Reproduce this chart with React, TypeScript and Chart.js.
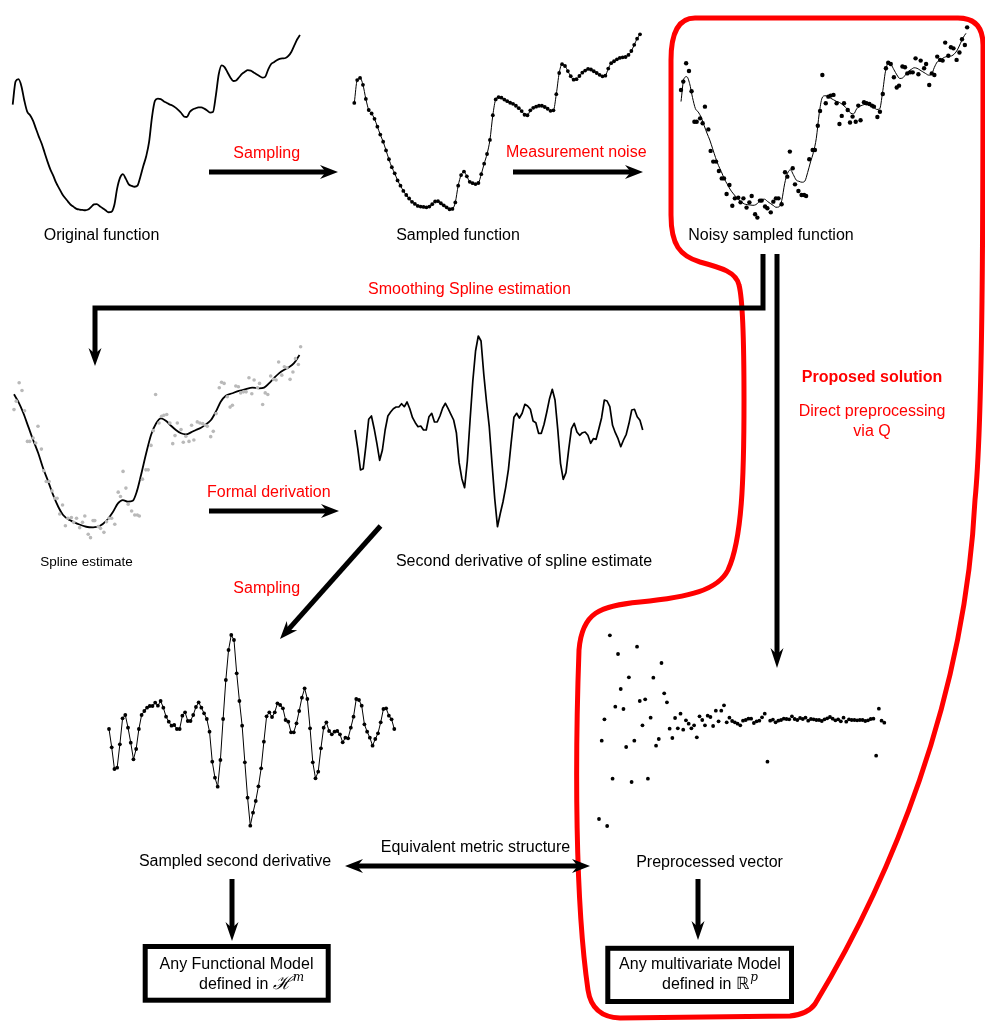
import React, { useEffect, useRef } from "react";
import { Chart, registerables } from "chart.js";

Chart.register(...registerables);

const FONT = '"Liberation Sans", Arial, Helvetica, sans-serif';
const RED = "#ff0000";

// ---------------- data ----------------
// underlying function, 100 uniform samples over t = 0..100
const fnSamples = [61, 74, 75.2, 71.3, 63.3, 57, 55, 52, 47.5, 43, 39, 34, 29, 24.5, 21, 17, 14, 11, 8.7, 6.7,
  4.8, 3.6, 2.5, 2.1, 1.9, 1.7, 2.1, 3.5, 5, 5.2, 4, 2.8, 1.7, 0.6, 0.8, 4.5, 14, 20, 22, 19.3,
  16.2, 15.4, 14.9, 15.5, 20.5, 26.5, 32, 40, 54, 63, 64.3, 64, 62.9, 62, 61.1, 60.5, 59.4, 58, 56.4, 54.3,
  54, 56.8, 58.2, 58.9, 59.4, 59.4, 58.7, 57.7, 56.5, 56.8, 66, 78, 83, 82, 79.1, 76.2, 74.2, 74.5, 76.3, 78.2,
  79.4, 80.3, 80, 79, 78, 77, 76.1, 76.5, 80.5, 83.6, 84.7, 85.8, 86.6, 86.9, 87.1, 88.3, 90.5, 94, 97.5, 100];

// noisy observations
const noisyT = [0, 0.8, 1.8, 2.8, 3.7, 4.7, 5.5, 6.7, 7.6, 8.4, 9.6, 10.4, 11.3, 12.3, 13.3, 14.3, 15.1, 16.0, 17.0, 18.0,
  18.9, 20.1, 20.9, 21.9, 23.0, 24.0, 24.8, 26.0, 26.8, 27.7, 28.3, 29.5, 30.3, 31.5, 32.4, 33.3, 34.2, 35.3, 36.5, 37.3,
  38.2, 39.2, 40.0, 41.2, 42.3, 43.2, 43.9, 45.0, 46.2, 47.0, 48.0, 48.8, 49.6, 50.8, 51.7, 52.5, 53.5, 54.6, 55.6, 56.4,
  57.2, 58.5, 59.3, 60.2, 61.3, 62.2, 63.0, 64.2, 65.1, 66.1, 67.0, 67.7, 68.9, 69.8, 70.8, 71.9, 72.7, 73.6, 74.7, 75.7,
  76.5, 77.7, 78.6, 79.4, 80.4, 81.3, 82.3, 83.3, 84.1, 85.3, 86.0, 87.1, 88.0, 88.9, 89.9, 90.9, 91.8, 92.7, 93.8, 94.7,
  95.6, 96.7, 97.7, 98.6, 99.6, 100.4];
const noisyV = [67.6, 72.4, 82.9, 78.5, 66.9, 49.5, 49.5, 51.4, 48.6, 58.1, 45.1, 32.8, 26.7, 26.7, 21.3, 17.1, 17.1, 8.2, 13.3, 1.5,
  5.7, 6.1, 3.4, 5.7, 0.4, 3.4, 7.0, -3.4, -5.3, 4.4, 4.4, 1.0, 0, -2.3, 3.8, 5.7, 5.7, 2.3, 20.6, 18.1,
  32.4, 22.9, 13.7, 9.9, 7.6, 7.6, 7.0, 28.0, 33.3, 33.3, 47.2, 55.6, 76.2, 60.0, 63.8, 64.4, 64.8, 60.0, 48.2, 52.8,
  60.0, 56.2, 49.0, 52.4, 49.5, 58.7, 50.3, 60.6, 60.0, 59.6, 58.7, 58.1, 52.2, 55.2, 65.3, 80.0, 83.2, 82.5, 74.9, 69.0,
  70.1, 81.0, 80.6, 77.1, 77.7, 77.7, 85.7, 76.6, 84.4, 80.0, 82.5, 70.5, 77.1, 76.2, 86.7, 84.8, 84.4, 94.7, 87.2, 92.0,
  91.4, 84.8, 89.0, 96.6, 93.3, 103.4];

// smoothing spline estimate
const splineT = [0, 1.5, 3.3, 5.0, 6.7, 8.5, 10.2, 12.0, 13.7, 15.5, 17.2, 19.5, 22.4, 25.3, 27.7, 30.0, 32.3, 34.7,
  36.4, 38.1, 39.9, 41.6, 43.0, 44.5, 46.3, 48.0, 49.8, 51.5, 53.3, 55.0, 56.7, 58.5, 60.2, 62.0, 63.7, 65.5, 67.2,
  69.0, 70.7, 72.4, 74.2, 76.5, 78.8, 81.2, 83.5, 85.8, 87.6, 89.3, 91.0, 92.8, 94.5, 96.3, 98.0, 100];
const splineV = [76.3, 72.1, 65.5, 57.9, 50.3, 42.7, 34.2, 26.6, 19.0, 12.3, 7.6, 4.7, 2.5, 0.9, 0.6, 1.3, 4.2, 9.5,
  14.2, 16.1, 15.2, 15.7, 20.9, 30.4, 42.7, 53.1, 59.8, 62.6, 61.1, 58.4, 56.0, 54.1, 53.5, 54.6, 56.0, 57.3, 59.2,
  61.7, 66.4, 72.1, 75.5, 76.9, 78.2, 79.3, 80.1, 79.7, 80.1, 82.5, 85.4, 88.2, 90.1, 91.7, 93.9, 98.7];

// second derivative of the spline (uniform grid)
const secondDeriv = [0, -18.3, -40, -38.7, -15.3, 10.7, 14, 1.3, -13.7, -30.3, -20, 0, 14, 18, 21.3, 23, 23, 26.3, 23.3, 28,
  21.3, 12.3, 7.3, 3.3, 4, 0, 0, 13.3, 16.7, 8, 8, 14, 22, 26.7, 21.3, 15.7, 10, -2.7, -32.7, -48.7,
  -57.7, -31, 10, 49, 79, 94, 89, 55.7, 28, 3.3, -33.3, -68.7, -96.7, -83.7, -72, -57.3, -39.3, -12.7, 12.7, 16.7,
  12, 16.7, 25.7, 24, 20.7, 9, 7.3, -3.3, -3.3, 5.7, 18, 31.3, 40.7, 30, 0.7, -33.3, -49.3, -42.7, -19.3, 1.3,
  6.7, -2, -5.3, -2.7, -2, -5.3, -13.3, -8.7, -9.3, 1.3, 12.3, 30, 29, 23.3, 4.7, -2.7, -8.7, -16.7, -10, -4.3,
  6.7, 20, 20.7, 13.3, 9.7, 0];

// directly preprocessed vector
const preprocessed = [-99, -20.7, 0.7, -106, 84.7, -58.7, 13.3, 66, 31, 11, -27, 42.7, -62, -20.7, 73.3, 19, -5.3, 20.7, -58.7, 2.3,
  42.3, -25.7, -19, 57, 26.7, 17.7, -8.7, -18, 2, -8.3, 6.3, -9.7, -0.3, -3.7, -8.3, -5.3, -17.3, 3.7, 0, -5.3,
  4.3, 3, -6, 9.3, -1.3, 9.3, 14.7, -2.3, 2.3, -1, -2.3, -3.7, -5.3, -0.7, 0, 1.3, 1.3, -3, -1.3, -0.7,
  2.7, 6.3, -41.7, -0.7, 0.3, -2.3, -0.7, 0, 1.3, 1, 0.7, 3.7, 1, 0, 2, 1, 2.3, -0.7, 1, 0.7,
  0, 0, -1, 0.7, 1.7, 3, 1.3, -0.3, 0.7, -1.3, 2.3, -1.7, 0.7, 0, 0, -0.3, 0, 0, -1, -0.3,
  1, 1.3, -35.7, 11.3, -0.7, -2.7];

// ---------------- helpers ----------------
type Pt = { x: number; y: number };
const onGrid = (ys: number[], span?: number): Pt[] =>
  ys.map((y, i) => ({ x: span === undefined ? i : (i * span) / (ys.length - 1), y }));
const zip = (xs: number[], ys: number[]): Pt[] => {
  const n = Math.min(xs.length, ys.length);
  return xs.slice(0, n).map((x, i) => ({ x, y: ys[i] }));
};

const lineDs = (data: Pt[], width: number, extra: any = {}) => ({
  data, showLine: true, borderColor: "#000", borderWidth: width, pointRadius: 0, fill: false, clip: false,
  borderJoinStyle: "round", ...extra,
});
const dotDs = (data: Pt[], r: number, color = "#000") => ({
  data, showLine: false, pointRadius: r, pointBackgroundColor: color, pointBorderWidth: 0,
  borderColor: color, backgroundColor: color, clip: false,
});

interface PlotSpec {
  id: string; x0: number; x1: number; yTop: number; yBottom: number;
  xMin: number; xMax: number; yMin: number; yMax: number; make: () => any[];
}

// pixel frame of each small panel (x0..x1 maps xMin..xMax, yTop..yBottom maps yMax..yMin)
const plots: PlotSpec[] = [
  { id: "orig", x0: 12.7, x1: 300, yTop: 35, yBottom: 213.3, xMin: 0, xMax: 100, yMin: 0, yMax: 100,
    make: () => [lineDs(onGrid(fnSamples, 100), 1.8, { cubicInterpolationMode: "monotone" })] },
  { id: "sampled", x0: 354.3, x1: 640, yTop: 34.3, yBottom: 210.3, xMin: 0, xMax: 100, yMin: 0, yMax: 100,
    make: () => [lineDs(onGrid(fnSamples, 100), 1, { cubicInterpolationMode: "monotone" }), dotDs(onGrid(fnSamples, 100), 1.9)] },
  { id: "noisy", x0: 681, x1: 971.7, yTop: 15.8, yBottom: 225.8, xMin: 0, xMax: 102, yMin: -10, yMax: 110,
    make: () => [lineDs(onGrid(fnSamples, 100), 1, { cubicInterpolationMode: "monotone" }), dotDs(zip(noisyT, noisyV), 2.2)] },
  { id: "spline", x0: 14, x1: 305.2, yTop: 335.1, yBottom: 545.9, xMin: 0, xMax: 102, yMin: -10, yMax: 110,
    make: () => [dotDs(zip(noisyT, noisyV), 1.8, "#b9b9b9"), lineDs(zip(splineT, splineV), 1.8, { cubicInterpolationMode: "monotone" })] },
  { id: "deriv", x0: 355, x1: 642.7, yTop: 330, yBottom: 530, xMin: 0, xMax: secondDeriv.length - 1, yMin: -100, yMax: 100,
    make: () => [lineDs(onGrid(secondDeriv), 1.7)] },
  { id: "sderiv", x0: 109, x1: 394.3, yTop: 629, yBottom: 829, xMin: 0, xMax: secondDeriv.length - 1, yMin: -100, yMax: 100,
    make: () => [lineDs(onGrid(secondDeriv), 1), dotDs(onGrid(secondDeriv), 1.9)] },
  { id: "prep", x0: 599, x1: 884.3, yTop: 610, yBottom: 835, xMin: 0, xMax: preprocessed.length - 1, yMin: -115, yMax: 110,
    make: () => [dotDs(onGrid(preprocessed), 1.9)] },
];

function MiniPlot({ spec }: { spec: PlotSpec }) {
  const ref = useRef<HTMLCanvasElement>(null);
  const left = Math.floor(spec.x0) - 10;
  const right = Math.ceil(spec.x1) + 10;
  const top = Math.floor(spec.yTop) - 10;
  const bottom = Math.ceil(spec.yBottom) + 12;
  useEffect(() => {
    const chart = new Chart(ref.current as HTMLCanvasElement, {
      type: "scatter",
      data: { datasets: spec.make() },
      options: {
        animation: false,
        responsive: false,
        devicePixelRatio: 1,
        events: [],
        layout: { padding: { left: spec.x0 - left, right: right - spec.x1, top: spec.yTop - top, bottom: bottom - spec.yBottom } },
        scales: {
          x: { type: "linear", display: false, min: spec.xMin, max: spec.xMax },
          y: { type: "linear", display: false, min: spec.yMin, max: spec.yMax },
        },
        plugins: { legend: { display: false }, tooltip: { enabled: false } },
      } as any,
    });
    return () => chart.destroy();
  }, []);
  return (
    <canvas ref={ref} width={right - left} height={bottom - top}
      style={{ position: "absolute", left, top, width: right - left, height: bottom - top }} />
  );
}

// ---------------- diagram decoration ----------------
function head(ctx: CanvasRenderingContext2D, tx: number, ty: number, ux: number, uy: number, len: number, hw: number) {
  const px = -uy, py = ux;
  const bx = tx - ux * len, by = ty - uy * len;
  const nx = tx - ux * len * 0.68, ny = ty - uy * len * 0.68;
  ctx.beginPath();
  ctx.moveTo(tx, ty);
  ctx.lineTo(bx + px * hw, by + py * hw);
  ctx.lineTo(nx, ny);
  ctx.lineTo(bx - px * hw, by - py * hw);
  ctx.closePath();
  ctx.fill();
}

function arrow(ctx: CanvasRenderingContext2D, x1: number, y1: number, x2: number, y2: number,
  o: { lw?: number; len?: number; hw?: number; both?: boolean } = {}) {
  const lw = o.lw ?? 5, len = o.len ?? 18, hw = o.hw ?? 7;
  const dx = x2 - x1, dy = y2 - y1, d = Math.hypot(dx, dy), ux = dx / d, uy = dy / d;
  const s = o.both ? len * 0.6 : 0;
  ctx.lineWidth = lw;
  ctx.lineCap = "butt";
  ctx.beginPath();
  ctx.moveTo(x1 + ux * s, y1 + uy * s);
  ctx.lineTo(x2 - ux * len * 0.6, y2 - uy * len * 0.6);
  ctx.stroke();
  head(ctx, x2, y2, ux, uy, len, hw);
  if (o.both) head(ctx, x1, y1, -ux, -uy, len, hw);
}

function label(ctx: CanvasRenderingContext2D, s: string, x: number, y: number,
  o: { color?: string; size?: number; bold?: boolean; align?: CanvasTextAlign } = {}) {
  ctx.fillStyle = o.color ?? "#000";
  ctx.font = `${o.bold ? "bold " : ""}${o.size ?? 16}px ${FONT}`;
  ctx.textAlign = o.align ?? "center";
  ctx.textBaseline = "alphabetic";
  ctx.fillText(s, x, y);
}

function drawDiagram(ctx: CanvasRenderingContext2D) {
  ctx.save();
  // red outline of the proposed solution
  ctx.strokeStyle = RED;
  ctx.lineWidth = 5;
  ctx.lineJoin = "round";
  ctx.beginPath();
  ctx.moveTo(671, 60);
  ctx.lineTo(671, 215);
  ctx.bezierCurveTo(671, 245, 680, 256, 700, 262);
  ctx.bezierCurveTo(722, 268, 736, 272, 739, 285);
  ctx.bezierCurveTo(743, 300, 744, 340, 744, 400);
  ctx.bezierCurveTo(744, 480, 742, 540, 728, 570);
  ctx.bezierCurveTo(718, 590, 690, 597, 640, 602);
  ctx.bezierCurveTo(600, 606, 582, 612, 579, 650);
  ctx.bezierCurveTo(575, 760, 575, 900, 588, 990);
  ctx.quadraticCurveTo(592, 1017, 620, 1018);
  ctx.lineTo(790, 1016);
  ctx.quadraticCurveTo(808, 1014, 815, 1004);
  ctx.bezierCurveTo(890, 880, 965, 700, 975, 500);
  ctx.bezierCurveTo(983, 420, 983, 200, 983, 45);
  ctx.quadraticCurveTo(983, 18, 958, 18);
  ctx.lineTo(695, 18);
  ctx.quadraticCurveTo(671, 18, 671, 60);
  ctx.closePath();
  ctx.stroke();

  // black arrows
  ctx.strokeStyle = "#000";
  ctx.fillStyle = "#000";
  arrow(ctx, 209, 172, 338, 172);
  arrow(ctx, 513, 172, 643, 172);
  arrow(ctx, 209, 511, 339, 511);
  arrow(ctx, 380.5, 526, 280, 639);
  arrow(ctx, 777, 254, 777, 668, { len: 20, hw: 6.5 });
  arrow(ctx, 345, 866, 590, 866, { both: true });
  arrow(ctx, 232, 879, 232, 941, { len: 19, hw: 6.5 });
  arrow(ctx, 698, 879, 698, 940, { len: 19, hw: 6.5 });

  // smoothing spline connector
  ctx.lineWidth = 5;
  ctx.lineJoin = "miter";
  ctx.beginPath();
  ctx.moveTo(763, 254);
  ctx.lineTo(763, 308);
  ctx.lineTo(95, 308);
  ctx.lineTo(95, 355);
  ctx.stroke();
  head(ctx, 95, 366, 0, 1, 18, 6.5);

  // boxes
  ctx.lineWidth = 5;
  ctx.strokeRect(145.2, 946.5, 183, 53.7);
  ctx.strokeRect(607.8, 948.3, 183.7, 53.2);

  // labels
  label(ctx, "Original function", 101.5, 240);
  label(ctx, "Sampled function", 458, 240);
  label(ctx, "Noisy sampled function", 771, 240);
  label(ctx, "Sampling", 266.7, 158, { color: RED });
  label(ctx, "Measurement noise", 576.3, 157, { color: RED });
  label(ctx, "Smoothing Spline estimation", 469.5, 294, { color: RED });
  label(ctx, "Proposed solution", 872, 382, { color: RED, bold: true });
  label(ctx, "Direct preprocessing", 872, 415.5, { color: RED });
  label(ctx, "via Q", 872, 435.5, { color: RED });
  label(ctx, "Spline estimate", 86.5, 566, { size: 13.5 });
  label(ctx, "Formal derivation", 268.8, 497, { color: RED });
  label(ctx, "Second derivative of spline estimate", 524, 566);
  label(ctx, "Sampling", 266.7, 592.5, { color: RED });
  label(ctx, "Equivalent metric structure", 475.5, 852);
  label(ctx, "Sampled second derivative", 235, 866);
  label(ctx, "Preprocessed vector", 709.5, 866.5);
  label(ctx, "Any Functional Model", 236.5, 969);
  label(ctx, "Any multivariate Model", 700, 969);

  // "defined in H^m"
  label(ctx, "defined in ", 199, 989, { align: "left" });
  ctx.font = `16px ${FONT}`;
  let w = ctx.measureText("defined in ").width;
  ctx.font = 'italic 18px "DejaVu Serif", serif';
  ctx.textAlign = "left";
  ctx.fillText("\u210B", 199 + w, 989);
  let w2 = ctx.measureText("\u210B").width;
  ctx.font = 'italic 12px "DejaVu Serif", serif';
  ctx.fillText("m", 199 + w + w2 + 1, 981);

  // "defined in R^p"
  label(ctx, "defined in ", 662, 988.5, { align: "left" });
  ctx.font = `16px ${FONT}`;
  w = ctx.measureText("defined in ").width;
  ctx.font = '17px "DejaVu Sans", sans-serif';
  ctx.textAlign = "left";
  ctx.fillText("\u211D", 662 + w, 988.5);
  w2 = ctx.measureText("\u211D").width;
  ctx.font = 'italic 12px "DejaVu Serif", serif';
  ctx.fillText("p", 662 + w + w2 + 1, 981);
  ctx.restore();
}

const diagramPlugin = {
  id: "diagram",
  afterDraw(chart: any) {
    drawDiagram(chart.ctx as CanvasRenderingContext2D);
  },
};

function Diagram() {
  const ref = useRef<HTMLCanvasElement>(null);
  useEffect(() => {
    const chart = new Chart(ref.current as HTMLCanvasElement, {
      type: "scatter",
      data: { datasets: [] },
      options: {
        animation: false,
        responsive: false,
        devicePixelRatio: 1,
        events: [],
        scales: { x: { display: false }, y: { display: false } },
        plugins: { legend: { display: false }, tooltip: { enabled: false } },
      } as any,
      plugins: [diagramPlugin],
    });
    return () => chart.destroy();
  }, []);
  return <canvas ref={ref} width={985} height={1022} style={{ position: "absolute", left: 0, top: 0, width: 985, height: 1022 }} />;
}

export default function App() {
  return (
    <div style={{ position: "absolute", left: 0, top: 0, width: 985, height: 1022, background: "#fff", overflow: "hidden" }}>
      <Diagram />
      {plots.map((p) => (
        <MiniPlot key={p.id} spec={p} />
      ))}
    </div>
  );
}
